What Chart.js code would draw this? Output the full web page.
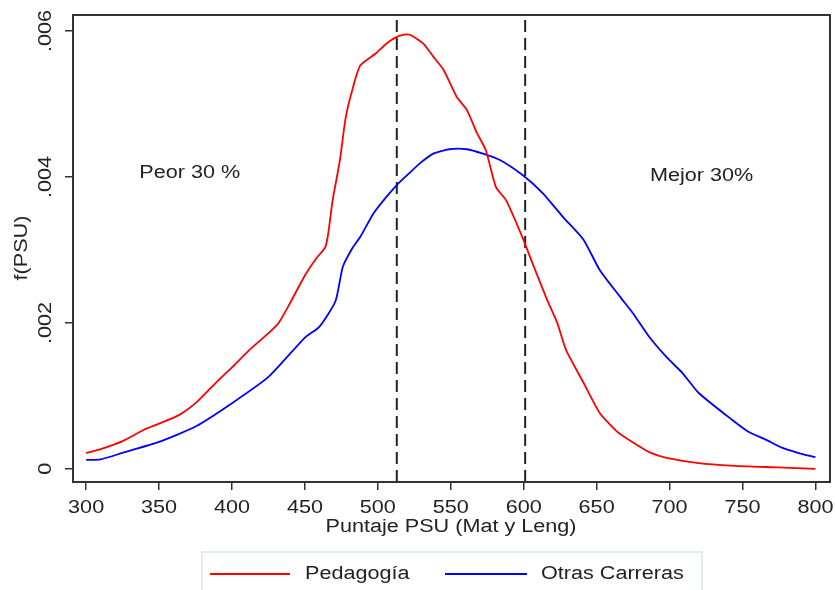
<!DOCTYPE html>
<html>
<head>
<meta charset="utf-8">
<script src="https://cdn.jsdelivr.net/npm/chart.js@4/dist/chart.umd.min.js"></script>
<style>
  body { margin: 0; background: #fff; }
  #wrap { width: 835px; height: 590px; }
</style>
</head>
<body>
<div id="wrap"><canvas id="densityChart" width="835" height="590"></canvas></div>
<script>
// datos (densidad kernel de la PSU)
const pedagogiaX = [300, 310, 325, 340, 350, 364, 375, 390, 400, 412, 425, 432, 440, 450, 458, 464, 466, 469, 474, 478, 483, 488, 499, 506, 513, 518, 522, 531, 538, 545, 554, 561, 568, 574, 581, 588, 599, 606, 616, 623, 629, 641, 652, 664, 675, 686, 698, 720, 742, 774, 800];
const pedagogiaY = [0.000215, 0.00027, 0.00038, 0.00054, 0.00062, 0.00074, 0.0009, 0.0012, 0.00139, 0.00163, 0.00186, 0.002, 0.00228, 0.00265, 0.00289, 0.00304, 0.00323, 0.00368, 0.00423, 0.00482, 0.00523, 0.00553, 0.0057, 0.00583, 0.00592, 0.00595, 0.00595, 0.00583, 0.00565, 0.00547, 0.0051, 0.00492, 0.0046, 0.00437, 0.00386, 0.00368, 0.00318, 0.00282, 0.00232, 0.002, 0.00163, 0.00118, 0.00077, 0.00051, 0.00036, 0.00023, 0.00015, 0.00008, 0.000045, 0.00002, 0.0];

const otrasX = [300, 310, 325, 350, 375, 400, 425, 450, 460, 471, 476, 483, 488, 497, 506, 513, 522, 529, 538, 549, 561, 572, 584, 599, 613, 627, 641, 652, 666, 675, 686, 698, 709, 720, 743, 754, 766, 777, 788, 800];
const otrasY = [0.000123, 0.00013, 0.00022, 0.00037, 0.00058, 0.0009, 0.00126, 0.0018, 0.00195, 0.0023, 0.00277, 0.00304, 0.00318, 0.0035, 0.00373, 0.00389, 0.00406, 0.00419, 0.00432, 0.00438, 0.00438, 0.00432, 0.00423, 0.00403, 0.00378, 0.00345, 0.00314, 0.00273, 0.00236, 0.00213, 0.00181, 0.00153, 0.00131, 0.00104, 0.00067, 0.00051, 0.0004, 0.00029, 0.00022, 0.00016];

const cortes = [513, 601]; // lineas punteadas (30% peor / 30% mejor)
const xTicks = [300, 350, 400, 450, 500, 550, 600, 650, 700, 750, 800];
const yTicks = [0, 0.002, 0.004, 0.006];
const yTickLabels = ['0', '.002', '.004', '.006'];
const etiquetas = [
    { text: 'Peor 30 %', x: 371, y: 0.00405 },
    { text: 'Mejor 30%', x: 722, y: 0.00401 }
];

const fuente = '"Liberation Sans", Arial, sans-serif';
const xMin = 291, xMax = 810, yMin = -0.00018, yMax = 0.00622;
const estirar = 1.2; // el texto original sale ensanchado

function puntos(xs, ys) {
    return xs.map((x, i) => ({ x: x, y: ys[i] }));
}

// texto ensanchado, opcionalmente girado
function texto(ctx, t, x, y, align, girar) {
    ctx.save();
    ctx.translate(x, y);
    if (girar) ctx.rotate(-Math.PI / 2);
    ctx.scale(estirar, 1);
    ctx.textAlign = align;
    ctx.textBaseline = 'middle';
    ctx.fillText(t, 0, 0);
    ctx.restore();
}

const datasets = [{
    label: 'Pedagogía',
    data: puntos(pedagogiaX, pedagogiaY),
    borderColor: '#ff0000',
    borderWidth: 1.8,
    pointRadius: 0,
    tension: 0.2
}, {
    label: 'Otras Carreras',
    data: puntos(otrasX, otrasY),
    borderColor: '#0000ff',
    borderWidth: 1.8,
    pointRadius: 0,
    tension: 0.2
}];

cortes.forEach(c => {
    datasets.push({
        label: 'corte',
        data: [{ x: c, y: yMin }, { x: c, y: 0.00615 }],
        borderColor: '#222',
        borderWidth: 2,
        borderDash: [12, 6],
        pointRadius: 0
    });
});

// marco, textos y leyenda
const extras = {
    id: 'extras',
    afterDraw(chart) {
        const ctx = chart.ctx;
        const a = chart.chartArea;
        const xs = chart.scales.x, ys = chart.scales.y;
        ctx.save();

        ctx.strokeStyle = '#333';
        ctx.lineWidth = 2;
        ctx.strokeRect(a.left, a.top, a.right - a.left, a.bottom - a.top);

        ctx.fillStyle = '#222';
        ctx.font = '18px ' + fuente;

        yTicks.forEach((v, i) => {
            texto(ctx, yTickLabels[i], 46, ys.getPixelForValue(v), 'center', true);
        });
        xTicks.forEach(v => {
            texto(ctx, String(v), xs.getPixelForValue(v), 508, 'center', false);
        });

        texto(ctx, 'f(PSU)', 22, 248, 'center', true);
        texto(ctx, 'Puntaje PSU (Mat y Leng)', 451, 527, 'center', false);

        etiquetas.forEach(e => {
            texto(ctx, e.text, xs.getPixelForValue(e.x), ys.getPixelForValue(e.y), 'center', false);
        });

        // leyenda
        ctx.strokeStyle = '#d6e6ea';
        ctx.lineWidth = 1.5;
        ctx.strokeRect(202, 552, 500, 50);
        const items = [
            { ds: chart.data.datasets[0], x0: 210, x1: 290, tx: 305 },
            { ds: chart.data.datasets[1], x0: 445, x1: 527, tx: 541 }
        ];
        items.forEach(it => {
            ctx.strokeStyle = it.ds.borderColor;
            ctx.lineWidth = 2;
            ctx.beginPath();
            ctx.moveTo(it.x0, 574);
            ctx.lineTo(it.x1, 574);
            ctx.stroke();
            texto(ctx, it.ds.label, it.tx, 574, 'left', false);
        });
        ctx.restore();
    }
};

new Chart(document.getElementById('densityChart'), {
    type: 'line',
    data: { datasets: datasets },
    options: {
        responsive: false,
        animation: false,
        layout: { padding: { top: 15, right: 5, left: 0, bottom: 0 } },
        plugins: {
            legend: { display: false },
            tooltip: { enabled: false }
        },
        scales: {
            x: {
                type: 'linear',
                min: xMin,
                max: xMax,
                afterBuildTicks: s => { s.ticks = xTicks.map(v => ({ value: v })); },
                afterFit: s => { s.height = 108; },
                grid: { display: true, drawOnChartArea: false, drawTicks: true, tickLength: 8, color: '#333', lineWidth: 1.5 },
                border: { display: true, color: '#333', width: 2 },
                ticks: { display: false }
            },
            y: {
                type: 'linear',
                min: yMin,
                max: yMax,
                afterBuildTicks: s => { s.ticks = yTicks.map(v => ({ value: v })); },
                afterFit: s => { s.width = 73; },
                grid: { display: true, drawOnChartArea: false, drawTicks: true, tickLength: 8, color: '#333', lineWidth: 1.5 },
                border: { display: true, color: '#333', width: 2 },
                ticks: { display: false }
            }
        }
    },
    plugins: [extras]
});
</script>
</body>
</html>
